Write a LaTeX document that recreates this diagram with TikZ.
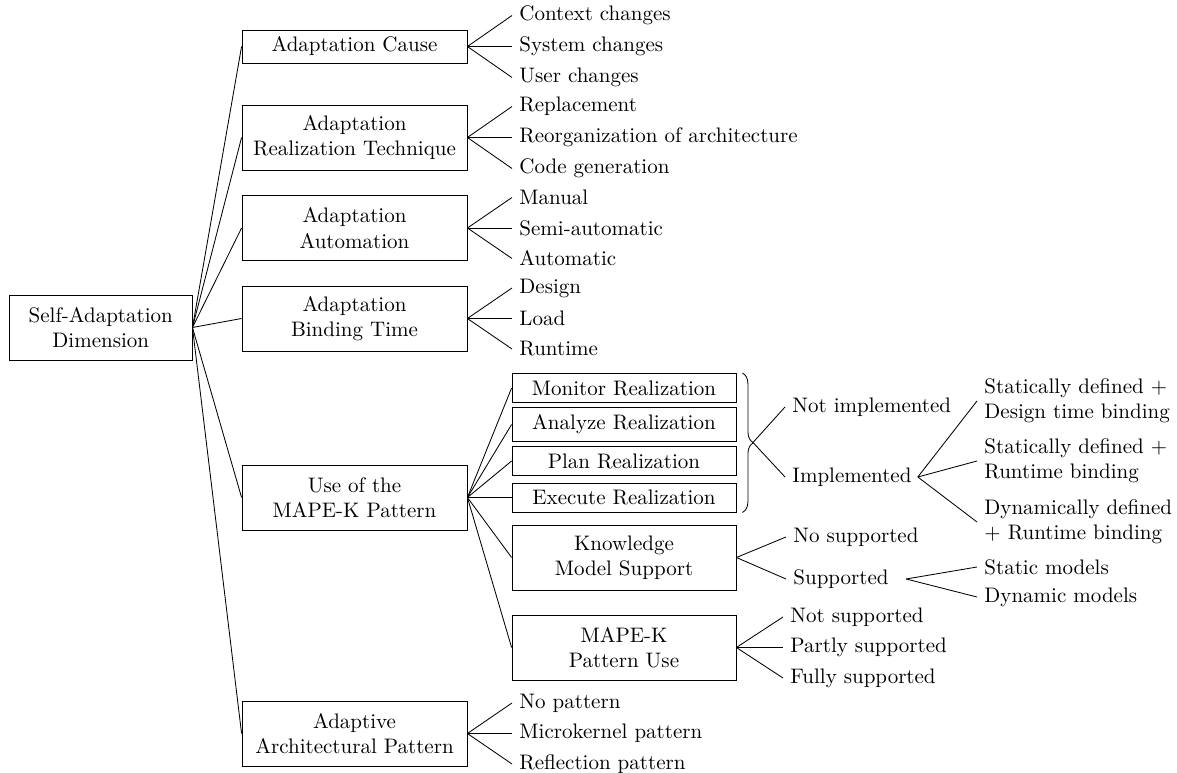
\documentclass[tikz,border=0pt]{standalone}
\usetikzlibrary{decorations.pathreplacing}
\begin{document}
\begin{tikzpicture}[x=0.476pt,y=-0.476pt,
  box/.style={draw, align=center, inner sep=3.33pt},
  bigbox/.style={box, minimum width=107.1pt},
  subbox/.style={box, minimum width=106.6pt},
  tall/.style={minimum height=31pt},
  leaf/.style={anchor=west, inner sep=3.33pt},
  multileaf/.style={leaf, align=left},
  link/.style={draw}]
\useasboundingbox (0,0) rectangle (1177,773);
% root
\node[box, minimum width=86.9pt, tall] (root) at (100.75,327.5) {Self-Adaptation\\Dimension};
% level 1
\node[bigbox] (cause) at (354.5,46.5) {Adaptation Cause};
\node[bigbox,tall] (tech) at (354.5,137.5) {Adaptation\\Realization Technique};
\node[bigbox,tall] (auto) at (354.5,228) {Adaptation\\Automation};
\node[bigbox,tall] (bind) at (354.5,318.5) {Adaptation\\Binding Time};
\node[bigbox,tall] (mape) at (354.5,497.5) {Use of the\\MAPE-K Pattern};
\node[bigbox,tall] (arch) at (354.5,733.5) {Adaptive\\Architectural Pattern};
\foreach \n in {cause,tech,auto,bind,mape,arch} \draw[link] (root.east) -- (\n.west);
% cause leaves
\node[leaf] (c1) at (512,15.5) {Context changes};
\node[leaf] (c2) at (512,46.5) {System changes};
\node[leaf] (c3) at (512,77.5) {User changes};
\foreach \n in {c1,c2,c3} \draw[link] (cause.east) -- (\n.west);
% technique leaves
\node[leaf] (t1) at (512,106.5) {Replacement};
\node[leaf] (t2) at (512,137.5) {Reorganization of architecture};
\node[leaf] (t3) at (512,168.5) {Code generation};
\foreach \n in {t1,t2,t3} \draw[link] (tech.east) -- (\n.west);
% automation leaves
\node[leaf] (a1) at (512,197.5) {Manual};
\node[leaf] (a2) at (512,228) {Semi-automatic};
\node[leaf] (a3) at (512,258.5) {Automatic};
\foreach \n in {a1,a2,a3} \draw[link] (auto.east) -- (\n.west);
% binding leaves
\node[leaf] (b1) at (512,288) {Design};
\node[leaf] (b2) at (512,318.5) {Load};
\node[leaf] (b3) at (512,349) {Runtime};
\foreach \n in {b1,b2,b3} \draw[link] (bind.east) -- (\n.west);
% architecture leaves
\node[leaf] (p1) at (512,703) {No pattern};
\node[leaf] (p2) at (512,733.5) {Microkernel pattern};
\node[leaf] (p3) at (512,764) {Reflection pattern};
\foreach \n in {p1,p2,p3} \draw[link] (arch.east) -- (\n.west);
% MAPE-K sub boxes
\node[subbox] (mon) at (624,388) {Monitor Realization};
\node[subbox] (ana) at (624,424.5) {Analyze Realization};
\node[subbox] (pla) at (624,461) {Plan Realization};
\node[subbox] (exe) at (624,497.5) {Execute Realization};
\node[subbox,tall] (know) at (624,557.5) {Knowledge\\Model Support};
\node[subbox,tall] (puse) at (624,647.5) {MAPE-K\\Pattern Use};
\foreach \n in {mon,ana,pla,exe,know,puse} \draw[link] (mape.east) -- (\n.west);
% brace
\draw[decorate, decoration={brace, amplitude=5.2pt}] ([xshift=2.9pt]mon.north east) -- ([xshift=2.9pt]exe.south east);
\coordinate (tip) at (753,442.5);
\node[leaf] (notimpl) at (785,407) {Not implemented};
\node[leaf] (impl) at (785,477) {Implemented};
\draw[link] (tip) -- (notimpl.west);
\draw[link] (tip) -- (impl.west);
\node[multileaf] (i1) at (977,401) {Statically defined +\\Design time binding};
\node[multileaf] (i2) at (977,461) {Statically defined +\\Runtime binding};
\node[multileaf] (i3) at (977,522) {Dynamically defined\\+ Runtime binding};
\foreach \n in {i1,i2,i3} \draw[link] ([xshift=-0.5pt]impl.east) -- (\n.west);
% knowledge leaves
\node[leaf] (k1) at (786,537) {No supported};
\node[leaf] (k2) at (786,579) {Supported};
\draw[link] (know.east) -- (k1.west);
\draw[link] (know.east) -- (k2.west);
\node[leaf] (s1) at (977,567) {Static models};
\node[leaf] (s2) at (977,597) {Dynamic models};
\draw[link] ([xshift=4.8pt]k2.east) -- (s1.west);
\draw[link] ([xshift=4.8pt]k2.east) -- (s2.west);
% pattern use leaves
\node[leaf] (u1) at (783,617) {Not supported};
\node[leaf] (u2) at (783,647.5) {Partly supported};
\node[leaf] (u3) at (783,678) {Fully supported};
\foreach \n in {u1,u2,u3} \draw[link] (puse.east) -- (\n.west);
\end{tikzpicture}
\end{document}
